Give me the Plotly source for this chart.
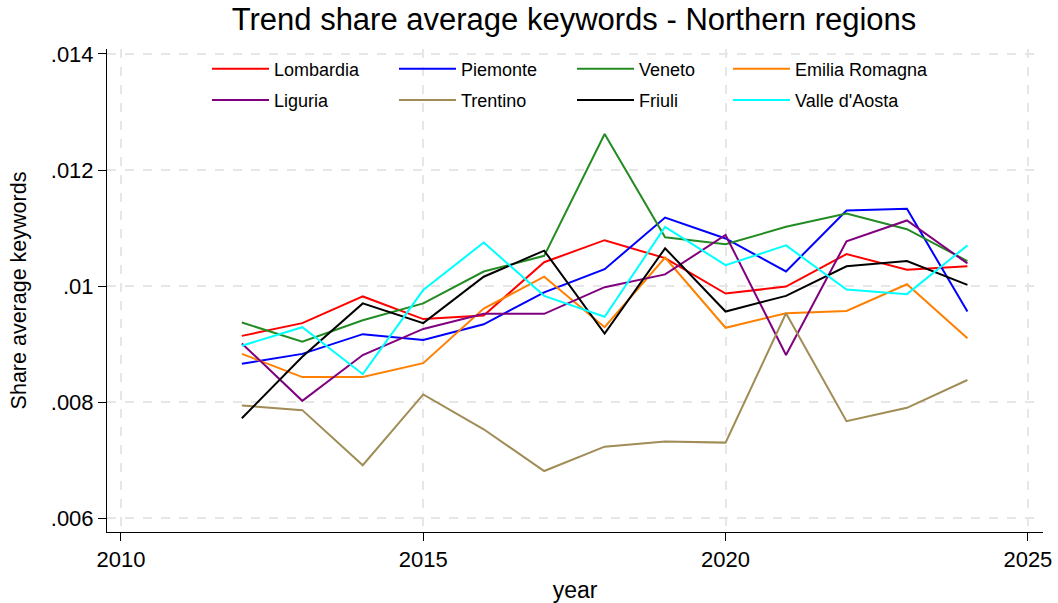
import plotly.graph_objects as go

years = [2012, 2013, 2014, 2015, 2016, 2017, 2018, 2019, 2020, 2021, 2022, 2023, 2024]

lombardia = [0.00914, 0.00936, 0.00982, 0.00943, 0.00949, 0.01041, 0.01079, 0.01048, 0.00987, 0.00999, 0.01055, 0.01028, 0.01034]
piemonte = [0.00866, 0.00883, 0.00917, 0.00907, 0.00934, 0.00989, 0.01029, 0.01118, 0.01082, 0.01025, 0.01130, 0.01133, 0.00956]
veneto = [0.00937, 0.00904, 0.00941, 0.00970, 0.01025, 0.01052, 0.01262, 0.01084, 0.01072, 0.01102, 0.01125, 0.01098, 0.01043]
emilia_romagna = [0.00883, 0.00843, 0.00843, 0.00867, 0.00961, 0.01016, 0.00929, 0.01049, 0.00928, 0.00953, 0.00957, 0.01003, 0.00910]
liguria = [0.00901, 0.00802, 0.00881, 0.00926, 0.00952, 0.00952, 0.00998, 0.01020, 0.01088, 0.00881, 0.01077, 0.01113, 0.01039]
trentino = [0.00794, 0.00786, 0.00691, 0.00813, 0.00753, 0.00681, 0.00723, 0.00732, 0.00730, 0.00953, 0.00767, 0.00790, 0.00838]
friuli = [0.00772, 0.00878, 0.00970, 0.00936, 0.01016, 0.01061, 0.00918, 0.01065, 0.00956, 0.00983, 0.01034, 0.01043, 0.01002]
valle_daosta = [0.00897, 0.00929, 0.00848, 0.00993, 0.01075, 0.00983, 0.00947, 0.01102, 0.01036, 0.01070, 0.00994, 0.00986, 0.01070]

series_names = ["Lombardia", "Piemonte", "Veneto", "Emilia Romagna",
                "Liguria", "Trentino", "Friuli", "Valle d'Aosta"]
series_values = [lombardia, piemonte, veneto, emilia_romagna,
                 liguria, trentino, friuli, valle_daosta]
series_colors = ["#ff0000", "#0000ff", "#228b22", "#ff8000",
                 "#800080", "#a08c55", "#000000", "#00ffff"]

x_ticks = [2010, 2015, 2020, 2025]
y_ticks = [0.006, 0.008, 0.010, 0.012, 0.014]
y_ticklabels = [".006", ".008", ".01", ".012", ".014"]

FONT = "Liberation Sans, Arial, Helvetica, sans-serif"

W, H = 1058, 603

legend_ids = ["legend", "legend2", "legend3", "legend4"]

fig = go.Figure()
for i, (name, vals, col) in enumerate(zip(series_names, series_values, series_colors)):
    fig.add_trace(go.Scatter(
        x=years, y=vals, mode="lines", name=name,
        line=dict(color=col, width=2),
        legend=legend_ids[i % 4],
        legendgroup=name,
        legendrank=i // 4,
    ))

# plot area in page pixels
plot_l, plot_r, plot_t, plot_b = 107, 1043, 49, 532
pw = plot_r - plot_l
ph = plot_b - plot_t
col_starts = [213, 400, 578, 734]
legend_top = 50.5

legend_common = dict(
    orientation="v", xanchor="left", yanchor="top",
    font=dict(family=FONT, size=18, color="black"),
    bgcolor="rgba(0,0,0,0)", borderwidth=0,
    tracegroupgap=5, itemwidth=57,
)
layout_legends = {}
for lid, cs in zip(legend_ids, col_starts):
    layout_legends[lid] = dict(legend_common, x=(cs - 6 - plot_l) / pw, y=1 - (legend_top - plot_t) / ph)

fig.update_layout(
    width=W, height=H,
    margin=dict(l=plot_l, r=W - plot_r, t=plot_t, b=H - plot_b),
    paper_bgcolor="white", plot_bgcolor="white",
    font=dict(family=FONT, size=19, color="black"),
    title=dict(text="Trend share average keywords - Northern regions",
               x=574 / W, xref="container", xanchor="center",
               y=1 - 19 / H, yanchor="middle",
               font=dict(family=FONT, size=31, color="black")),
    showlegend=True,
    **layout_legends,
)

fig.update_xaxes(
    range=[2009.77, 2025.25],
    tickvals=x_ticks, ticktext=[str(t) for t in x_ticks],
    ticks="outside", ticklen=8, tickwidth=1, tickcolor="black",
    showline=True, linecolor="black", linewidth=1,
    showgrid=True, gridcolor="#e6e6e6", gridwidth=1.5, griddash="dash",
    zeroline=False, automargin=False,
    tickfont=dict(family=FONT, size=22, color="black"),
    title=dict(text="year", font=dict(family=FONT, size=23, color="black"), standoff=12),
)
fig.update_yaxes(
    range=[0.005759, 0.014086],
    tickvals=y_ticks, ticktext=y_ticklabels,
    ticks="outside", ticklen=8, tickwidth=1, tickcolor="black",
    showline=True, linecolor="black", linewidth=1,
    showgrid=True, gridcolor="#e6e6e6", gridwidth=1.5, griddash="dash",
    zeroline=False, automargin=False,
    tickfont=dict(family=FONT, size=22, color="black"),
    title=dict(text="Share average keywords", font=dict(family=FONT, size=21.5, color="black"), standoff=18),
)

# remove the page's default 8px body margin so the figure fills the window
fig.write_html("out.html", config={"displayModeBar": False},
               post_script="document.body.style.margin='0px';")
